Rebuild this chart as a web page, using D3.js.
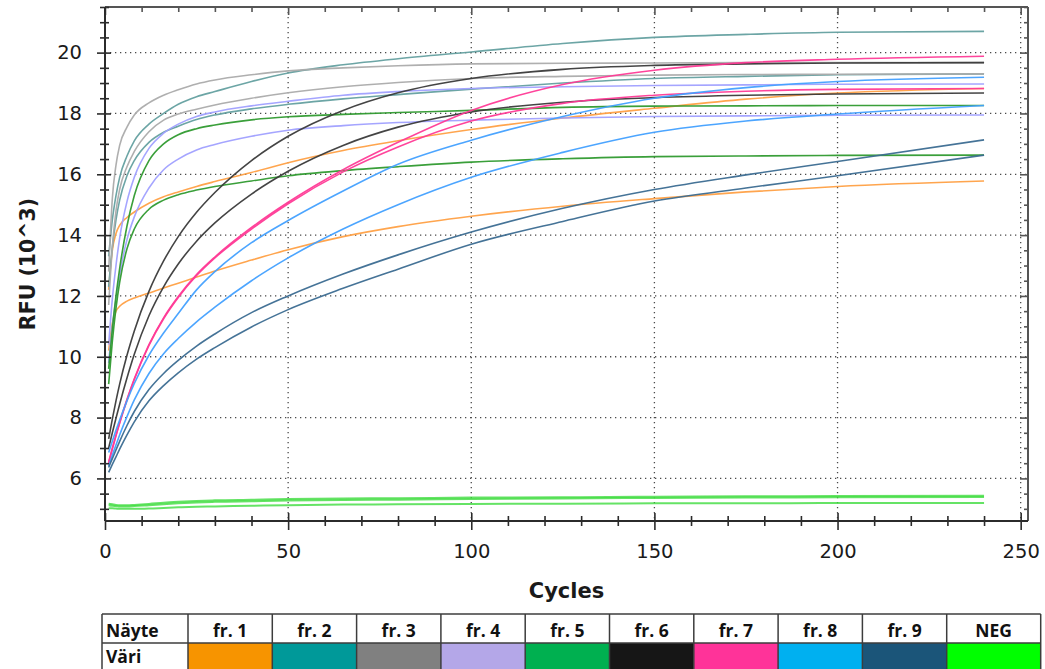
<!DOCTYPE html>
<html>
<head>
<meta charset="utf-8">
<script src="https://cdn.jsdelivr.net/npm/d3@7/dist/d3.min.js"></script>
<style>
  html, body { margin: 0; padding: 0; background: #fff; }
  svg { display: block; font-family: "DejaVu Sans", Arial, sans-serif; }
</style>
</head>
<body>
<svg id="chart" width="1045" height="669"></svg>
<script>
// Amplification cycles at which each trace is sampled
const cycles = [1, 2, 3, 4, 6, 8, 12, 16, 20, 25, 30, 40, 50, 65, 80, 100, 125, 150, 175, 200, 240];

// RFU (x1000) for each well, two replicates per fraction
const fr1a = [12.2, 13.5, 14.05, 14.32, 14.58, 14.76, 15.05, 15.26, 15.42, 15.6, 15.76, 16.06, 16.38, 16.78, 17.1, 17.47, 17.85, 18.17, 18.47, 18.67, 18.82];
const fr1b = [10.2, 11.1, 11.5, 11.66, 11.83, 11.93, 12.1, 12.26, 12.42, 12.62, 12.82, 13.18, 13.52, 13.95, 14.28, 14.62, 14.95, 15.2, 15.42, 15.6, 15.78];
const fr2a = [13.3, 14.5, 15.3, 15.9, 16.6, 17.1, 17.65, 18.0, 18.3, 18.55, 18.72, 19.05, 19.33, 19.6, 19.8, 20.02, 20.3, 20.5, 20.6, 20.67, 20.7];
const fr2b = [12.3, 13.6, 14.5, 15.15, 15.95, 16.45, 17.05, 17.38, 17.58, 17.8, 17.95, 18.15, 18.3, 18.48, 18.62, 18.8, 19.0, 19.15, 19.22, 19.27, 19.3];
const fr3a = [12.8, 15.2, 16.3, 16.95, 17.55, 17.95, 18.35, 18.6, 18.78, 18.97, 19.1, 19.27, 19.4, 19.5, 19.57, 19.63, 19.65, 19.66, 19.67, 19.67, 19.67];
const fr3b = [11.7, 13.6, 14.8, 15.5, 16.25, 16.75, 17.4, 17.78, 17.98, 18.14, 18.28, 18.5, 18.68, 18.88, 19.02, 19.15, 19.22, 19.26, 19.28, 19.29, 19.3];
const fr4a = [10.4, 11.9, 13.0, 13.9, 15.1, 15.9, 16.85, 17.35, 17.65, 17.9, 18.05, 18.25, 18.4, 18.6, 18.72, 18.82, 18.88, 18.92, 18.94, 18.96, 18.97];
const fr4b = [9.8, 11.0, 11.9, 12.7, 13.85, 14.6, 15.55, 16.15, 16.5, 16.8, 16.98, 17.25, 17.45, 17.6, 17.7, 17.78, 17.85, 17.9, 17.92, 17.94, 17.95];
const fr5a = [9.6, 10.9, 12.0, 12.9, 14.3, 15.3, 16.45, 17.0, 17.3, 17.5, 17.62, 17.79, 17.89, 17.97, 18.03, 18.1, 18.2, 18.24, 18.25, 18.26, 18.26];
const fr5b = [9.1, 10.5, 11.6, 12.45, 13.55, 14.2, 14.85, 15.15, 15.33, 15.48, 15.6, 15.78, 15.95, 16.12, 16.25, 16.4, 16.51, 16.58, 16.6, 16.62, 16.63];
const fr6a = [7.3, 7.95, 8.55, 9.1, 10.05, 10.85, 12.15, 13.15, 13.95, 14.75, 15.4, 16.45, 17.25, 18.1, 18.68, 19.15, 19.45, 19.58, 19.63, 19.66, 19.67];
const fr6b = [7.0, 7.5, 7.98, 8.44, 9.3, 10.08, 11.35, 12.3, 13.05, 13.8, 14.4, 15.35, 16.1, 16.95, 17.55, 18.05, 18.37, 18.52, 18.6, 18.64, 18.67];
const fr7a = [6.55, 7.0, 7.43, 7.84, 8.6, 9.28, 10.4, 11.28, 11.98, 12.7, 13.28, 14.25, 15.08, 16.15, 17.05, 18.1, 18.95, 19.42, 19.67, 19.78, 19.88];
const fr7b = [6.5, 6.96, 7.4, 7.81, 8.57, 9.25, 10.37, 11.25, 11.95, 12.67, 13.25, 14.2, 15.03, 16.08, 16.9, 17.75, 18.33, 18.6, 18.73, 18.79, 18.82];
const fr8a = [6.85, 7.22, 7.58, 7.92, 8.55, 9.12, 10.05, 10.78, 11.42, 12.2, 12.8, 13.75, 14.48, 15.45, 16.33, 17.12, 17.9, 18.5, 18.85, 19.05, 19.19];
const fr8b = [6.4, 6.76, 7.1, 7.43, 8.03, 8.58, 9.45, 10.1, 10.6, 11.15, 11.63, 12.5, 13.25, 14.2, 15.0, 15.9, 16.72, 17.38, 17.75, 17.98, 18.26];
const fr9a = [6.36, 6.65, 6.94, 7.22, 7.74, 8.2, 8.92, 9.45, 9.88, 10.35, 10.75, 11.45, 12.0, 12.72, 13.35, 14.1, 14.88, 15.5, 15.98, 16.42, 17.13];
const fr9b = [6.2, 6.46, 6.71, 6.96, 7.43, 7.86, 8.55, 9.05, 9.47, 9.92, 10.3, 10.98, 11.55, 12.25, 12.88, 13.7, 14.45, 15.12, 15.55, 15.95, 16.63];
const negA = [5.17, 5.15, 5.13, 5.12, 5.12, 5.13, 5.16, 5.2, 5.23, 5.26, 5.28, 5.3, 5.32, 5.34, 5.35, 5.37, 5.38, 5.4, 5.41, 5.42, 5.43];
const negB = [5.02, 5.02, 5.01, 5.0, 5.0, 5.0, 5.01, 5.03, 5.05, 5.07, 5.08, 5.1, 5.12, 5.14, 5.15, 5.16, 5.17, 5.18, 5.18, 5.19, 5.19];
const negC = [5.12, 5.1, 5.09, 5.08, 5.08, 5.09, 5.12, 5.15, 5.18, 5.21, 5.23, 5.25, 5.27, 5.29, 5.3, 5.32, 5.34, 5.36, 5.37, 5.38, 5.39];

// Sample names and the colour key shown in the table
const samples = ["fr. 1", "fr. 2", "fr. 3", "fr. 4", "fr. 5", "fr. 6", "fr. 7", "fr. 8", "fr. 9", "NEG"];
const keyColors = ["#f79400", "#009999", "#808080", "#b4a7e8", "#00b050", "#161616", "#ff3399", "#00b0f0", "#1b5579", "#00ff00"];
// Trace colours used in the plot for each sample
const traceColors = ["#ffa044", "#64a0a0", "#ababab", "#a0a0ff", "#2f9a2f", "#3a3a3a", "#ff3a96", "#42a0ff", "#3b6b91", "#3edc3e"];

const yTicks = [6, 8, 10, 12, 14, 16, 18, 20];
const xTicks = [0, 50, 100, 150, 200, 250];

const traces = [
  { s: 0, v: fr1a }, { s: 0, v: fr1b },
  { s: 1, v: fr2a }, { s: 1, v: fr2b },
  { s: 2, v: fr3a }, { s: 2, v: fr3b },
  { s: 3, v: fr4a }, { s: 3, v: fr4b },
  { s: 4, v: fr5a }, { s: 4, v: fr5b },
  { s: 5, v: fr6a }, { s: 5, v: fr6b },
  { s: 6, v: fr7a }, { s: 6, v: fr7b },
  { s: 7, v: fr8a }, { s: 7, v: fr8b },
  { s: 8, v: fr9a }, { s: 8, v: fr9b },
  { s: 9, v: negA }, { s: 9, v: negC }, { s: 9, v: negB }
];

const svg = d3.select("#chart");
const plotL = 105, plotR = 1028, plotT = 7, plotB = 521;

const x = d3.scaleLinear().domain([0, 252]).range([plotL, plotR]);
const y = d3.scaleLinear().domain([4.6, 21.5]).range([plotB, plotT]);

const axisColor = "#2b2b2b";
const tickFont = "'DejaVu Sans', Arial, sans-serif";

// dotted grid
const grid = svg.append("g").attr("stroke", "#4a4a4a").attr("stroke-width", 1.3)
  .attr("stroke-dasharray", "1.3,3.7");
grid.selectAll("line.h").data(yTicks).join("line").attr("class", "h")
  .attr("x1", plotL).attr("x2", plotR)
  .attr("y1", d => y(d)).attr("y2", d => y(d));
grid.selectAll("line.v").data(xTicks.filter(d => d > 0)).join("line").attr("class", "v")
  .attr("y1", plotT).attr("y2", plotB)
  .attr("x1", d => x(d)).attr("x2", d => x(d));

// traces
svg.append("defs").append("clipPath").attr("id", "plotArea")
  .append("rect").attr("x", plotL).attr("y", plotT).attr("width", plotR - plotL).attr("height", plotB - plotT);

const line = d3.line()
  .x((d, i) => x(cycles[i]))
  .y(d => y(d))
  .curve(d3.curveMonotoneX);

svg.append("g").attr("clip-path", "url(#plotArea)")
  .selectAll("path").data(traces).join("path")
  .attr("d", d => line(d.v))
  .attr("fill", "none")
  .attr("stroke", d => traceColors[d.s])
  .attr("stroke-width", d => d.s === 9 ? 2 : 1.6)
  .attr("stroke-opacity", d => d.s === 9 ? 0.8 : 0.95)
  .attr("stroke-linejoin", "round");

// frame (top and right)
svg.append("line").attr("x1", plotL).attr("x2", plotR).attr("y1", plotT).attr("y2", plotT)
  .attr("stroke", "#555").attr("stroke-width", 2);
svg.append("line").attr("x1", plotR).attr("x2", plotR).attr("y1", plotT).attr("y2", plotB)
  .attr("stroke", "#555").attr("stroke-width", 2);

const yMinor = d3.range(5, 21.51, 0.5).filter(v => !yTicks.includes(v));
const xMinor = d3.range(10, 251, 10).filter(v => !xTicks.includes(v));

function styleAxis(g) {
  g.select(".domain").remove();
  g.selectAll(".tick line").attr("stroke", axisColor).attr("stroke-width", 1.6);
}

// left axis with crossing ticks
const gy = svg.append("g").attr("transform", `translate(${plotL},0)`)
  .call(d3.axisLeft(y).tickValues(yTicks).tickSize(8).tickPadding(15).tickFormat(d3.format("d")))
  .call(styleAxis);
gy.selectAll(".tick line").attr("x1", 6);
gy.selectAll(".tick text").attr("font-size", 19.5).attr("fill", "#1a1a1a")
  .attr("font-family", tickFont);
const gyMinor = svg.append("g").attr("transform", `translate(${plotL},0)`)
  .call(d3.axisLeft(y).tickValues(yMinor).tickSize(5).tickFormat(""))
  .call(styleAxis);
gyMinor.selectAll(".tick line").attr("x1", 4);

// right axis, ticks pointing inward
svg.append("g").attr("transform", `translate(${plotR},0)`)
  .call(d3.axisLeft(y).tickValues(yTicks).tickSize(8).tickFormat(""))
  .call(styleAxis)
  .selectAll(".tick line").attr("stroke", "#555");
svg.append("g").attr("transform", `translate(${plotR},0)`)
  .call(d3.axisLeft(y).tickValues(yMinor).tickSize(4).tickFormat(""))
  .call(styleAxis)
  .selectAll(".tick line").attr("stroke", "#555");

// bottom axis with crossing ticks
const gx = svg.append("g").attr("transform", `translate(0,${plotB})`)
  .call(d3.axisBottom(x).tickValues(xTicks).tickSize(9).tickPadding(14).tickFormat(d3.format("d")))
  .call(styleAxis);
gx.selectAll(".tick line").attr("y1", -8);
gx.selectAll(".tick text").attr("font-size", 19.5).attr("fill", "#1a1a1a")
  .attr("font-family", tickFont);
const gxMinor = svg.append("g").attr("transform", `translate(0,${plotB})`)
  .call(d3.axisBottom(x).tickValues(xMinor).tickSize(5).tickFormat(""))
  .call(styleAxis);
gxMinor.selectAll(".tick line").attr("y1", -5);

// top axis, ticks pointing inward
svg.append("g").attr("transform", `translate(0,${plotT})`)
  .call(d3.axisTop(x).tickValues(xTicks).tickSize(8).tickFormat(""))
  .call(styleAxis)
  .selectAll(".tick line").attr("y2", 8).attr("stroke", "#555");
svg.append("g").attr("transform", `translate(0,${plotT})`)
  .call(d3.axisTop(x).tickValues(xMinor).tickSize(5).tickFormat(""))
  .call(styleAxis)
  .selectAll(".tick line").attr("y2", 5).attr("stroke", "#555");

// axis lines
svg.append("line").attr("x1", plotL).attr("x2", plotL).attr("y1", plotT).attr("y2", plotB)
  .attr("stroke", axisColor).attr("stroke-width", 2);
svg.append("line").attr("x1", plotL).attr("x2", plotR).attr("y1", plotB).attr("y2", plotB)
  .attr("stroke", axisColor).attr("stroke-width", 2);

// axis titles
svg.append("text").attr("x", (plotL + plotR) / 2).attr("y", 598)
  .attr("text-anchor", "middle").attr("font-size", 21).attr("font-weight", "bold")
  .attr("font-family", tickFont).attr("fill", "#1a1a1a").text("Cycles");
svg.append("text").attr("transform", "translate(35,264) rotate(-90)")
  .attr("text-anchor", "middle").attr("font-size", 20.5).attr("font-weight", "bold")
  .attr("font-family", tickFont).attr("fill", "#1a1a1a").text("RFU (10^3)");

// sample colour key table
const tbl = svg.append("g");
const tX = 102, tY = 614, rowH = 29, firstW = 86, cellW = 84.3, lastW = 94;
const colX = i => tX + firstW + i * cellW;
const colW = i => i === samples.length - 1 ? lastW : cellW;

tbl.append("rect").attr("x", tX).attr("y", tY).attr("width", firstW).attr("height", rowH)
  .attr("fill", "#fff");
tbl.append("rect").attr("x", tX).attr("y", tY + rowH).attr("width", firstW).attr("height", rowH)
  .attr("fill", "#fff");
tbl.selectAll("rect.key").data(samples).join("rect").attr("class", "key")
  .attr("x", (d, i) => colX(i)).attr("y", tY + rowH)
  .attr("width", (d, i) => colW(i)).attr("height", rowH)
  .attr("fill", (d, i) => keyColors[i]);

// table grid lines
const tRight = colX(samples.length - 1) + lastW;
const tg = tbl.append("g").attr("stroke", "#3c3c3c").attr("stroke-width", 1.5);
[tY, tY + rowH, tY + 2 * rowH].forEach(yy => tg.append("line")
  .attr("x1", tX).attr("x2", tRight).attr("y1", yy).attr("y2", yy));
[tX].concat(samples.map((d, i) => colX(i)), [tRight]).forEach(xx => tg.append("line")
  .attr("x1", xx).attr("x2", xx).attr("y1", tY).attr("y2", tY + 2 * rowH));

const tFont = "'Open Sans', 'Liberation Sans', Arial, sans-serif";
tbl.append("text").attr("x", tX + 4).attr("y", tY + 23).attr("font-size", 17.5)
  .attr("font-weight", "bold").attr("font-family", tFont).attr("fill", "#111").text("Näyte");
tbl.append("text").attr("x", tX + 4).attr("y", tY + rowH + 20).attr("font-size", 17.5)
  .attr("font-weight", "bold").attr("font-family", tFont).attr("fill", "#111").text("Väri");
tbl.selectAll("text.head").data(samples).join("text").attr("class", "head")
  .attr("x", (d, i) => colX(i) + colW(i) / 2).attr("y", tY + 23)
  .attr("text-anchor", "middle").attr("font-size", 17.5).attr("font-weight", "bold")
  .attr("font-family", tFont).attr("fill", "#111").text(d => d);
</script>
</body>
</html>
